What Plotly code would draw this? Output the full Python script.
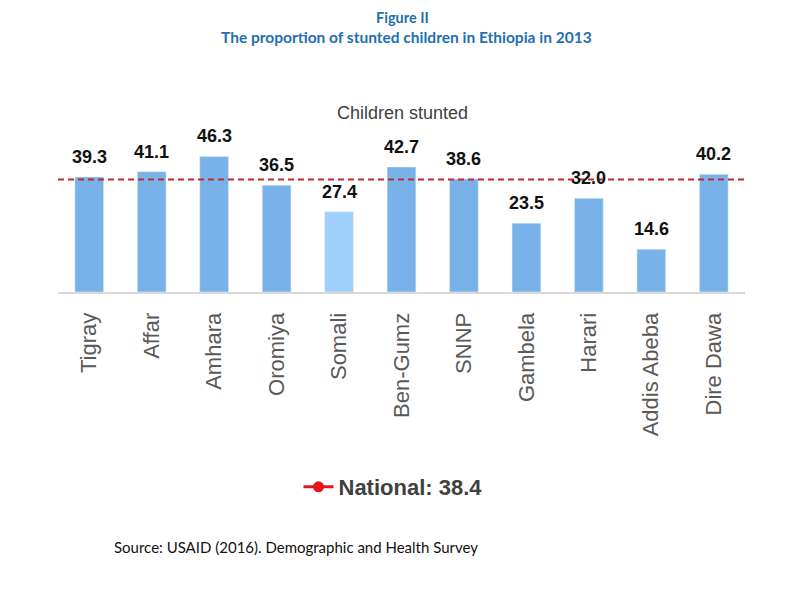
import plotly.graph_objects as go

regions = ["Tigray", "Affar", "Amhara", "Oromiya", "Somali", "Ben-Gumz", "SNNP",
           "Gambela", "Harari", "Addis Abeba", "Dire Dawa"]
stunted = [39.3, 41.1, 46.3, 36.5, 27.4, 42.7, 38.6, 23.5, 32.0, 14.6, 40.2]
national = 38.4
value_labels = [f"{v:.1f}" for v in stunted]

BAR = "#78b2e8"
BAR_LIGHT = "#9fd0fb"
colors = [BAR_LIGHT if r == "Somali" else BAR for r in regions]

W, H = 804, 597
OFF = 8  # page body margin
# target plot box in screen pixels
X0, X1, YB, YT = 58, 745, 292, 131
ML = X0 - OFF
MR = W - (X1 - OFF)
MT = YT - OFF
MB = H - (YB - OFF)
PH = YB - YT


def py(ypix):
    return (YB - ypix) / PH


def px(xpix):
    return (xpix - X0) / (X1 - X0)


fig = go.Figure()
fig.add_trace(go.Bar(x=regions, y=stunted, marker_color=colors, showlegend=False,
                     hoverinfo="x+y"))
fig.add_trace(go.Scatter(x=[None], y=[None], mode="lines+markers",
                         name=f"National: {national}",
                         line=dict(color="#e8141b", width=3),
                         marker=dict(color="#e8141b", size=11)))

fig.add_shape(type="line", xref="paper", yref="y", x0=0, x1=1, y0=national, y1=national,
              line=dict(color="#c0282d", width=2, dash="6px,4px"), layer="above")

for r, v, t in zip(regions, stunted, value_labels):
    fig.add_annotation(x=r, y=v, text=t, showarrow=False, yshift=20, yanchor="middle",
                       font=dict(family="Liberation Sans, Arial", size=18, color="#111111",
                                 weight="bold"))

fig.add_annotation(xref="paper", yref="paper", x=px(402), y=py(113), text="Children stunted",
                   showarrow=False, yanchor="middle",
                   font=dict(family="Liberation Sans, Arial", size=18, color="#404040"))
fig.add_annotation(xref="paper", yref="paper", x=px(402), y=py(8.5), text="<b>Figure II</b>",
                   showarrow=False, yanchor="top", borderpad=0,
                   font=dict(family="Lato", size=14.5, color="#1f6fb2"))
fig.add_annotation(xref="paper", yref="paper", x=px(406), y=py(36.5),
                   text="<b>The proportion of stunted children in Ethiopia in 2013</b>",
                   showarrow=False, yanchor="middle", borderpad=0,
                   font=dict(family="Lato", size=15.5, color="#1f6fb2"))
fig.add_annotation(xref="paper", yref="paper", x=px(112), y=py(547), xanchor="left",
                   text="Source: USAID (2016). Demographic and Health Survey",
                   showarrow=False, yanchor="middle",
                   font=dict(family="Lato", size=15, color="#111111"))

fig.update_layout(
    width=W, height=H,
    margin=dict(l=ML, r=MR, t=MT, b=MB, autoexpand=False),
    paper_bgcolor="white", plot_bgcolor="white",
    bargap=0.54,
    xaxis=dict(showgrid=False, showline=True, linecolor="#d9d9d9", linewidth=2,
               tickangle=-90, ticks="outside", ticklen=10, tickcolor="rgba(0,0,0,0)",
               tickfont=dict(family="Liberation Sans, Arial", size=22, color="#595959")),
    yaxis=dict(visible=False, range=[0, 55]),
    legend=dict(orientation="h", x=px(393), xanchor="center", y=py(487), yanchor="middle",
                font=dict(family="Liberation Sans, Arial", size=22, color="#404040",
                          weight="bold"),
                itemwidth=30),
)

fig.write_html("out.html")
